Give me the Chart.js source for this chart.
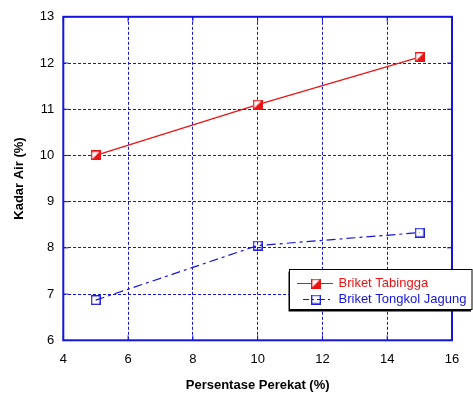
<!DOCTYPE html>
<html><head><meta charset="utf-8">
<script src="https://cdn.jsdelivr.net/npm/chart.js@4"></script>
<style>html,body{margin:0;padding:0;background:#fff}#wrap{width:473px;height:394px}</style>
</head><body><div id="wrap"><canvas id="c"></canvas></div>
<script>
const xValues = [5, 10, 15];
const tabingga = [10.0, 11.1, 12.13];
const tongkol = [6.87, 8.05, 8.33];
const seriesNames = ['Briket Tabingga', 'Briket Tongkol Jagung'];
const xTitle = 'Persentase Perekat (%)';
const yTitle = 'Kadar Air (%)';

const RED = 'rgb(235,20,20)';
const BLUE = 'rgb(20,20,220)';
const FONT = '"Liberation Sans", Arial, sans-serif';

function redMarker() {
  const c = document.createElement('canvas'); c.width = 10; c.height = 10;
  const g = c.getContext('2d');
  g.fillStyle = '#fff'; g.fillRect(0,0,10,10);
  g.fillStyle = RED; g.beginPath(); g.moveTo(10,0); g.lineTo(10,10); g.lineTo(0,10); g.closePath(); g.fill();
  g.strokeStyle = RED; g.lineWidth = 1.4; g.strokeRect(0.7,0.7,8.6,8.6);
  return c;
}
function blueMarker() {
  const c = document.createElement('canvas'); c.width = 10; c.height = 10;
  const g = c.getContext('2d');
  g.strokeStyle = BLUE; g.lineWidth = 1.3; g.strokeRect(0.7,0.7,8.6,8.6);
  return c;
}
const mR = redMarker(), mB = blueMarker();

const framePlugin = {
  id: 'frame',
  beforeDatasetsDraw(chart) {
    const {ctx, chartArea: a, scales: {x, y}} = chart;
    ctx.save();
    ctx.strokeStyle = BLUE; ctx.lineWidth = 1; ctx.setLineDash([]);
    ctx.beginPath();
    x.ticks.forEach(t => { const px = x.getPixelForValue(t.value);
      ctx.moveTo(px, a.bottom); ctx.lineTo(px, a.bottom - 5);
      ctx.moveTo(px, a.top); ctx.lineTo(px, a.top + 5); });
    y.ticks.forEach(t => { const py = y.getPixelForValue(t.value);
      ctx.moveTo(a.left, py); ctx.lineTo(a.left + 5, py);
      ctx.moveTo(a.right, py); ctx.lineTo(a.right - 5, py); });
    ctx.stroke();
    ctx.lineWidth = 2;
    ctx.strokeRect(a.left, a.top, a.right - a.left, a.bottom - a.top);
    ctx.restore();
  },
  afterDraw(chart) {
    const ctx = chart.ctx;
    const bx = 289.5, by = 269.5, bw = 182.5, bh = 40;
    ctx.save();
    ctx.fillStyle = '#000'; ctx.fillRect(bx - 1, by + 2, bw, bh);
    ctx.fillStyle = '#fff'; ctx.fillRect(bx, by, bw, bh);
    ctx.strokeStyle = '#000'; ctx.lineWidth = 1; ctx.strokeRect(bx, by, bw, bh);
    const rows = [
      {y: 283.5, color: RED, dash: [], m: mR, text: seriesNames[0]},
      {y: 299.5, color: BLUE, dash: [8,3,2,3], m: mB, text: seriesNames[1]}
    ];
    rows.forEach((r, i) => {
      ctx.strokeStyle = r.color; ctx.lineWidth = 1.2;
      ctx.setLineDash(r.dash); ctx.lineDashOffset = i ? 2 : 0;
      ctx.beginPath(); ctx.moveTo(i ? 303 : 297, r.y); ctx.lineTo(333, r.y); ctx.stroke();
      ctx.setLineDash([]);
      ctx.drawImage(r.m, 311, r.y - 5);
      ctx.fillStyle = r.color; ctx.font = '13px ' + FONT; ctx.textBaseline = 'middle';
      ctx.fillText(r.text, 338.5, r.y);
    });
    ctx.restore();
  }
};

const toPts = (ys) => xValues.map((x, i) => ({x, y: ys[i]}));

new Chart(document.getElementById('c'), {
  type: 'line',
  data: {
    datasets: [
      {label: seriesNames[0], data: toPts(tabingga), borderColor: RED, borderWidth: 1.3,
       pointStyle: mR, pointRadius: 5, tension: 0, fill: false},
      {label: seriesNames[1], data: toPts(tongkol), borderColor: BLUE, borderWidth: 1.2,
       borderDash: [9,4,3,4], pointStyle: mB, pointRadius: 5, tension: 0, fill: false}
    ]
  },
  options: {
    responsive: true, maintainAspectRatio: false, animation: false,
    layout: {padding: {left: 0, right: 21, top: 15.6, bottom: 0}},
    plugins: {legend: {display: false}, tooltip: {enabled: false}},
    scales: {
      x: {
        type: 'linear', min: 4, max: 16,
        ticks: {stepSize: 2, padding: 11, color: '#000', font: {family: FONT, size: 13}},
        grid: {color: BLUE, lineWidth: 1, drawTicks: false},
        border: {display: false, dash: [3,2]},
        title: {display: true, text: xTitle, color: '#000', font: {family: FONT, size: 13, weight: 'bold'}, padding: {top: 0, bottom: 0.5}},
        afterFit(s) { s.height = 53.7; }
      },
      y: {
        min: 6, max: 13,
        ticks: {stepSize: 1, padding: 9, color: '#000', font: {family: FONT, size: 13}},
        grid: {color: BLUE, lineWidth: 1, drawTicks: false},
        border: {display: false, dash: [3,2]},
        title: {display: true, text: yTitle, color: '#000', font: {family: FONT, size: 13, weight: 'bold'}, padding: {top: 11.5, bottom: 0}},
        afterFit(s) { s.width = 63.3; }
      }
    }
  },
  plugins: [framePlugin]
});
</script>
</body></html>
